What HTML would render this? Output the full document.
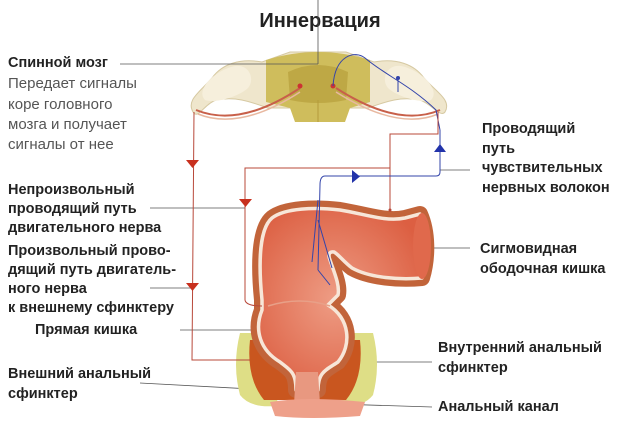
<!DOCTYPE html>
<html><head><meta charset="utf-8"><style>
html,body{margin:0;padding:0;background:#fff;}
svg{display:block;}
text{font-family:"Liberation Sans",sans-serif;font-size:14.5px;fill:#222;font-weight:bold;}
.g{font-weight:normal;fill:#555;font-size:15px;}
</style></head><body>
<svg width="640" height="430" viewBox="0 0 640 430" xmlns="http://www.w3.org/2000/svg">
<defs>
<radialGradient id="rg" cx="0.45" cy="0.5" r="0.6"><stop offset="0" stop-color="#ee9c84"/><stop offset="1" stop-color="#dc5f42"/></radialGradient>
</defs>
<text x="320" y="27" text-anchor="middle" style="font-size:20px">Иннервация</text>

<!-- spinal cord -->
<path d="M193,112 C186,100 200,92 212,78 C222,64 240,58 262,62 L290,52 L346,52 L374,62 C396,58 414,64 424,78 C436,92 452,100 445,112 C440,118 432,104 420,100 C400,96 385,102 368,108 L268,108 C251,102 236,96 216,100 C204,104 198,120 193,112Z" fill="#efe6cc" stroke="#d6c9a2"/>
<path d="M205,100 C195,90 215,70 235,66 C250,64 255,80 248,88 C240,96 215,104 205,100Z" fill="#f6efdc"/>
<path d="M431,100 C441,90 421,70 401,66 C386,64 381,80 388,88 C396,96 421,104 431,100Z" fill="#f6efdc"/>
<path d="M266,60 Q318,44 370,60 L370,102 L350,108 L345,122 L295,122 L290,108 L266,102Z" fill="#cfbd5c"/>
<path d="M288,72 Q318,58 348,72 L346,100 Q318,106 290,100Z" fill="#bea845"/>
<path d="M318,100 L318,122" stroke="#b49c3c"/>
<path d="M196,110 Q240,128 300,88 M440,110 Q398,128 336,88" stroke="#c8604a" stroke-width="2" fill="none"/>
<path d="M198,114 Q240,131 300,92 M438,114 Q398,131 336,92" stroke="#e8b8a0" stroke-width="1.5" fill="none"/>
<circle cx="300" cy="86" r="2.5" fill="#c33"/><circle cx="333" cy="86" r="2.5" fill="#c33"/>
<path d="M333,86 C335,55 355,50 365,58 C385,75 410,85 436,110 L440,130" stroke="#3344aa" stroke-width="1" fill="none"/>
<circle cx="398" cy="78" r="2" fill="#3344aa"/><path d="M398,78 L398,92" stroke="#3344aa"/>

<!-- leader lines -->
<g stroke="#555" stroke-width="0.8" fill="none">
<path d="M120,64 L318,64 M318,0 L318,64"/>
<path d="M150,208 L245,208"/>
<path d="M150,288 L192,288"/>
<path d="M180,330 L290,330"/>
<path d="M140,383 L270,390"/>
<path d="M440,170 L470,170"/>
<path d="M390,248 L470,248"/>
<path d="M330,362 L432,362"/>
<path d="M305,403 L432,407"/>
</g>

<!-- sphincters -->
<path d="M240,333 Q232,365 240,395 Q250,408 275,406 L290,370 L268,333Z" fill="#dede86"/>
<path d="M373,333 Q381,365 373,395 Q363,408 338,406 L323,370 L345,333Z" fill="#dede86"/>
<path d="M250,340 Q246,378 264,400 L296,400 L292,372 L262,340Z" fill="#c9561f"/>
<path d="M360,340 Q364,378 346,400 L315,400 L318,372 L348,340Z" fill="#c9561f"/>

<!-- colon/rectum -->
<g stroke-linejoin="round">
<path d="M262,300 C258,260 260,228 272,218 C285,208 315,207 340,210 C365,214 385,222 405,218 L420,214 C428,232 428,258 422,278 C400,280 370,278 352,268 C344,262 338,254 334,252 C329,251 328,255 330,260 C334,272 340,285 338,295 L328,305 C350,318 352,345 338,362 C326,370 318,372 318,390 L296,390 C296,372 290,370 280,362 C260,350 254,330 262,310 Z" fill="none" stroke="#c2643a" stroke-width="16"/>
<path d="M262,300 C258,260 260,228 272,218 C285,208 315,207 340,210 C365,214 385,222 405,218 L420,214 C428,232 428,258 422,278 C400,280 370,278 352,268 C344,262 338,254 334,252 C329,251 328,255 330,260 C334,272 340,285 338,295 L328,305 C350,318 352,345 338,362 C326,370 318,372 318,390 L296,390 C296,372 290,370 280,362 C260,350 254,330 262,310 Z" fill="url(#rg)" stroke="#f7e6d8" stroke-width="3.5"/>
</g>
<ellipse cx="422" cy="246" rx="9" ry="33" fill="#e0694c"/>
<path d="M268,306 Q300,296 330,306" stroke="#e8a088" stroke-width="1.5" fill="none"/>
<path d="M296,372 L318,372 L320,404 L294,404Z" fill="#e89880"/>
<path d="M270,402 Q307,396 365,402 L360,416 Q310,420 275,416Z" fill="#eea08a"/>

<!-- nerve lines -->
<g stroke="#b8483a" stroke-width="1" fill="none">
<path d="M194,112 L192,360 L250,360"/>
<path d="M438,112 L438,134 L390,134 L390,212"/>
<path d="M390,168 L245,168 L245,300 Q246,306 262,306"/>
</g>
<circle cx="390" cy="210" r="1.5" fill="#b8483a"/>
<g stroke="#3344aa" stroke-width="1" fill="none">
<path d="M440,130 L440,172 Q440,176 436,176 L325,176 Q320,176 320,185 L318,270 M318,200 L312,262 M318,220 L332,268 M318,270 L330,285"/>
</g>
<path d="M186,160 L199,160 L192.5,168Z" fill="#c8301e"/>
<path d="M186,283 L199,283 L192.5,291Z" fill="#c8301e"/>
<path d="M239,199 L252,199 L245.5,207Z" fill="#c8301e"/>
<path d="M434,152 L446,152 L440,144Z" fill="#2233aa"/>
<path d="M352,170 L352,183 L360,176.5Z" fill="#2233aa"/>

<!-- labels -->
<text x="8" y="67">Спинной мозг</text>
<text class="g" x="8" y="88">Передает сигналы</text>
<text class="g" x="8" y="109">коре головного</text>
<text class="g" x="8" y="129">мозга и получает</text>
<text class="g" x="8" y="149">сигналы от нее</text>
<text x="8" y="194">Непроизвольный</text>
<text x="8" y="213">проводящий путь</text>
<text x="8" y="232">двигательного нерва</text>
<text x="8" y="255">Произвольный прово-</text>
<text x="8" y="274">дящий путь двигатель-</text>
<text x="8" y="293">ного нерва</text>
<text x="8" y="312">к внешнему сфинктеру</text>
<text x="35" y="334">Прямая кишка</text>
<text x="8" y="378">Внешний анальный</text>
<text x="8" y="398">сфинктер</text>
<text x="482" y="133">Проводящий</text>
<text x="482" y="153">путь</text>
<text x="482" y="172">чувствительных</text>
<text x="482" y="192">нервных волокон</text>
<text x="480" y="253">Сигмовидная</text>
<text x="480" y="273">ободочная кишка</text>
<text x="438" y="352">Внутренний анальный</text>
<text x="438" y="372">сфинктер</text>
<text x="438" y="411">Анальный канал</text>
</svg>
</body></html>
